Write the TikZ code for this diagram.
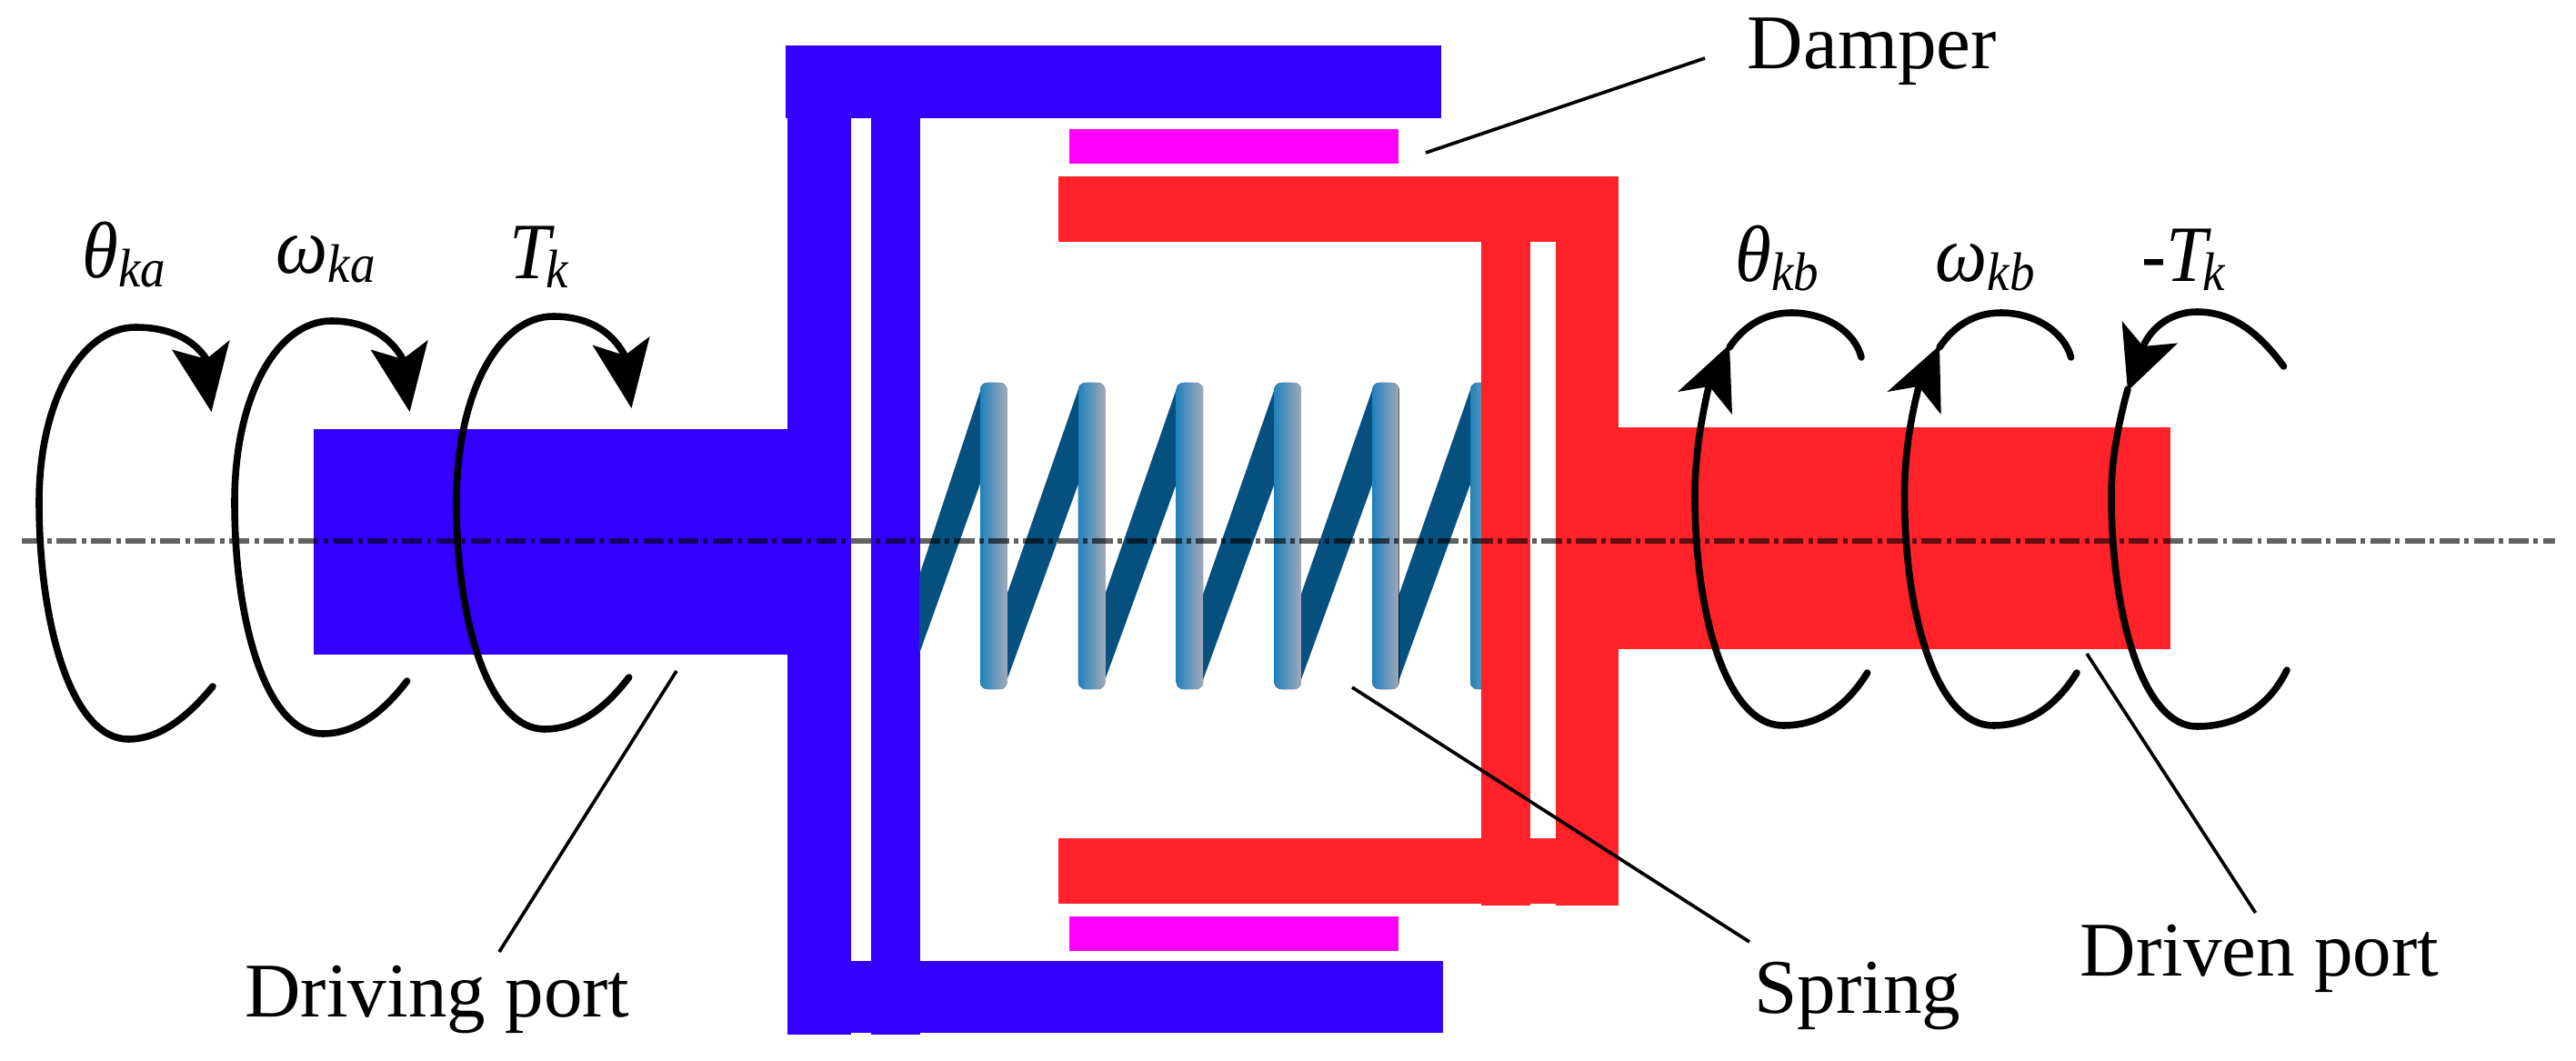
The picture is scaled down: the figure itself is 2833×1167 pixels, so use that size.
\documentclass[tikz,border=0pt]{standalone}
\usepackage{fontspec}
\setmainfont{Liberation Serif}
\usetikzlibrary{calc}
\definecolor{dblue}{HTML}{3300FF}
\definecolor{dred}{HTML}{FF2229}
\definecolor{dmag}{HTML}{FF00FF}
\definecolor{coilL}{HTML}{1F82BC}
\definecolor{coilR}{HTML}{A3A9BA}
\definecolor{strip}{HTML}{05507F}
\tikzset{
  x=0.01cm,y=-0.01cm,
  blue part/.style={fill=dblue,draw=none},
  red part/.style={fill=dred,draw=none},
  damper part/.style={fill=dmag,draw=none},
  coil strip/.style={fill=strip,draw=none},
  coil bar/.style={left color=coilL,right color=coilR,draw=none,rounded corners=2.2pt},
  axis line/.style={black,opacity=.62,line width=1.52pt,dash pattern=on 6.4pt off 1.5pt on 1.4pt off 1.5pt},
  turn/.style={black,line width=2.15pt,line cap=round},
  head/.style={fill=black,draw=none},
  leader/.style={black,line width=1.05pt},
  lbl/.style={inner sep=0pt,font=\fontsize{24.2}{28}\selectfont,anchor=base},
  sym/.style={inner sep=0pt,font=\fontsize{25}{30}\selectfont\itshape,anchor=base west},
}
\newcommand{\symb}[3]{\scalebox{.92}[1]{#1\kern#3\raisebox{-2.7pt}{\fontsize{17}{20}\selectfont\itshape #2}}}
\begin{document}
\begin{tikzpicture}
\useasboundingbox (0,0) rectangle (2833,1167);
% blue
\fill[blue part] (345,472) rectangle (866,720);
\fill[blue part] (864,50) rectangle (1585,130);
\fill[blue part] (866,50) rectangle (936,1138);
\fill[blue part] (958,50) rectangle (1011.5,1138);
\fill[blue part] (866,1057) rectangle (1587,1136);
% spring strips
\fill[coil strip] (1011,633) -- (1078,430) -- (1078,532) -- (1011,719) -- cycle;
\foreach \a in {0,1,2,3,4}{
  \fill[coil strip] ({1107+\a*107.8},655) -- ({1186+\a*107.8},428) -- ({1186+\a*107.8},532) -- ({1107+\a*107.8},749) -- cycle;
}
\foreach \a in {0,1,2,3,4,5}{
  \fill[coil bar] ({1078+\a*107.8},421) rectangle ({1107.5+\a*107.8},758);
}
% red
\fill[red part] (1779,470) rectangle (2387,714);
\fill[red part] (1164,194) rectangle (1779,266);
\fill[red part] (1164,922) rectangle (1779,994);
\fill[red part] (1629,194) rectangle (1683,996);
\fill[red part] (1711,194) rectangle (1779.5,996);
% damper
\fill[damper part] (1175.5,142) rectangle (1538,180);
\fill[damper part] (1175.5,1008) rectangle (1538,1046);
% axis
\coordinate (axL) at (24,595);
\coordinate (axR) at (2810,595);
\draw[axis line] (axL) -- (axR);
% left turns
\draw[turn] (234,755) .. controls (205,790) and (175,813) .. (141,813) .. controls (80,813) and (43,690) .. (43,552) .. controls (43,440) and (90,360) .. (149,360) .. controls (185,360) and (212,372) .. (227,395);
\fill[head] (232.5,453) -- (189,384.5) -- (227,395) -- (252.6,374) -- cycle;
\draw[turn] (447.7,749) .. controls (420,785) and (390,807) .. (354.7,807) .. controls (295,807) and (258,690) .. (258,552) .. controls (258,435) and (305,353) .. (364.5,353) .. controls (400,353) and (428,368) .. (443,395);
\fill[head] (450.6,453) -- (407.5,384.5) -- (443,395) -- (470.7,374) -- cycle;
\draw[turn] (691.7,745) .. controls (665,780) and (635,802) .. (598.7,802) .. controls (540,802) and (502,690) .. (502,552) .. controls (502,430) and (550,348) .. (608.4,348) .. controls (645,348) and (672,363) .. (687,391);
\fill[head] (694.5,449) -- (651.5,379.5) -- (687,391) -- (714.6,370) -- cycle;
% right turns
\draw[turn] (2053.6,740) .. controls (2030,778) and (2000,798) .. (1961,798) .. controls (1900,798) and (1864,680) .. (1864,544) .. controls (1864,505) and (1870,465) .. (1879,426);
\fill[head] (1902,379) -- (1845,431) -- (1880,425) -- (1905,456) -- cycle;
\draw[turn] (1902,382) .. controls (1918,358) and (1942,344) .. (1970,344) .. controls (2008,344) and (2040,365) .. (2047,393);
\draw[turn] (2284,740) .. controls (2260,778) and (2230,798) .. (2192,798) .. controls (2131,798) and (2094.5,680) .. (2094.5,544) .. controls (2094.5,505) and (2100,465) .. (2110,426);
\fill[head] (2133,380) -- (2075.4,431) -- (2110,425) -- (2134.7,456) -- cycle;
\draw[turn] (2133,382) .. controls (2149,358) and (2172,344) .. (2200.5,344) .. controls (2238,344) and (2270,365) .. (2277.6,393);
\draw[turn] (2515,737) .. controls (2495,778) and (2460,799) .. (2416,799) .. controls (2358,799) and (2322,680) .. (2322,544) .. controls (2322,505) and (2330,465) .. (2340,428);
\fill[head] (2340,430) -- (2333.6,353) -- (2357,381) -- (2395,377.4) -- cycle;
\draw[turn] (2511.5,403) .. controls (2480,360) and (2450,343) .. (2416,343) .. controls (2390,343) and (2367,358) .. (2357,381);
% labels
\node[sym] (thka) at (90,306) {\symb{θ}{ka}{0pt}};
\node[sym] (omka) at (303,301) {\symb{ω}{ka}{0pt}};
\node[sym] (tk) at (560,307) {\symb{T}{k}{-1.5pt}};
\node[sym] (thkb) at (1908,310) {\symb{θ}{kb}{0pt}};
\node[sym] (omkb) at (2128,310) {\symb{ω}{kb}{0pt}};
\node[sym] (mtk) at (2355,310) {\symb{-T}{k}{-1.5pt}};
\node[lbl] (dmp) at (2059,76) {Damper};
\node[lbl] (dng) at (481,1118) {Driving port};
\node[lbl] (spr) at (2043,1114) {Spring};
\node[lbl] (dvn) at (2485,1073) {Driven port};
% leaders
\coordinate (dmpA) at (1875,64);
\coordinate (dmpB) at (1568,168);
\draw[leader] (dmpA) -- (dmpB);
\coordinate (dngA) at (549,1047);
\coordinate (dngB) at (744,738);
\draw[leader] (dngA) -- (dngB);
\coordinate (sprA) at (1924,1036);
\coordinate (sprB) at (1487,756);
\draw[leader] (sprA) -- (sprB);
\coordinate (dvnA) at (2480.5,1004);
\coordinate (dvnB) at (2295,719);
\draw[leader] (dvnA) -- (dvnB);
\end{tikzpicture}
\end{document}
